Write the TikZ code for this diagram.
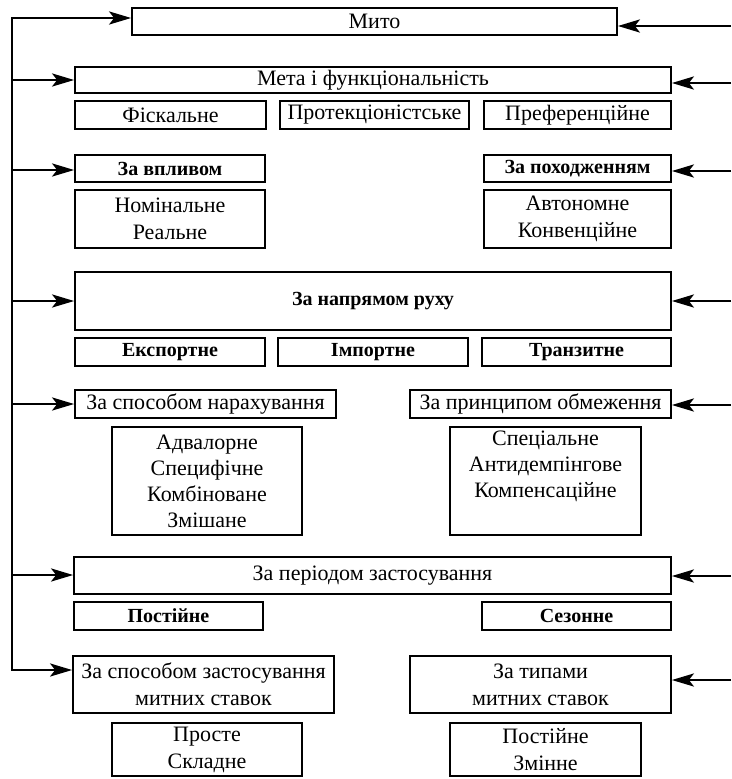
\documentclass[tikz,border=0pt]{standalone}
\usepackage{fontspec}
\setmainfont{Liberation Serif}
\usetikzlibrary{arrows.meta}
\begin{document}
\begin{tikzpicture}[x=1pt,y=-1pt]
		\tikzset{box/.style = {draw, line width=1.7pt, inner sep=0pt, align=center, font=\fontsize{22}{27}\selectfont}}
		\tikzset{head/.style = {box, font=\fontsize{20}{26}\selectfont\bfseries}}
		\tikzset{edge/.style = {-{Stealth[length=22pt,width=13pt,inset=5pt]}, line width=2.8pt}}
		\useasboundingbox (0,0) rectangle (731,779);
		
		\node[box, minimum width=485, minimum height=27]  (1) at (374.5,  21.5) {Мито};
		\node[box, minimum width=596, minimum height=26]  (2) at (373,    80)   {Мета і функціональність};
		\node[box, minimum width=191, minimum height=28]  (3) at (170.5, 115)   {Фіскальне};
		\node[box, minimum width=189, minimum height=28]  (4) at (374.5, 115)   {Протекціоністське};
		\node[box, minimum width=187, minimum height=28]  (5) at (577.5, 115)   {Преференційне};
		
		\node[head, minimum width=190, minimum height=27] (6) at (170,   168.5) {За впливом};
		\node[head, minimum width=187, minimum height=27] (7) at (577.5, 168.5) {За походженням};
		\node[box, minimum width=190, minimum height=58]  (8) at (170,   219)   {Номінальне\\Реальне};
		\node[box, minimum width=187, minimum height=58]  (9) at (577.5, 219)   {Автономне\\Конвенційне};
		
		\node[head, minimum width=596, minimum height=58] (10) at (373,   301)  {За напрямом руху};
		\node[head, minimum width=190, minimum height=28] (11) at (170,   352)  {Експортне};
		\node[head, minimum width=190, minimum height=28] (12) at (373,   352)  {Імпортне};
		\node[head, minimum width=189, minimum height=28] (13) at (576.5, 352)  {Транзитне};
		
		\node[box, minimum width=261, minimum height=28] (14) at (205.5, 404)   {За способом нарахування};
		\node[box, minimum width=261, minimum height=28] (15) at (540.5, 404)   {За принципом обмеження};
		\node[box, font=\fontsize{22}{26}\selectfont, minimum width=190, minimum height=108] (16) at (207, 481) {Адвалорне\\Специфічне\\Комбіноване\\Змішане};
		\node[box, font=\fontsize{22}{26}\selectfont, minimum width=191, minimum height=108] (17) at (545.5, 481) {Спеціальне\\Антидемпінгове\\Компенсаційне\\\strut};
		
		\node[box, minimum width=597, minimum height=37] (18) at (372.5, 575.5) {За періодом застосування};
		\node[head, minimum width=189, minimum height=28] (19) at (168.5, 616)  {Постійне};
		\node[head, minimum width=189, minimum height=28] (20) at (576.5, 616)  {Сезонне};
		
		\node[box, minimum width=261, minimum height=57] (21) at (203.5, 684.5) {За способом застосування\\митних ставок};
		\node[box, minimum width=261, minimum height=57] (22) at (540.5, 684.5) {За типами\\митних ставок};
		\node[box, minimum width=190, minimum height=53] (23) at (207,   749.5) {Просте\\Складне};
		\node[box, minimum width=191, minimum height=53] (24) at (545.5, 749.5) {Постійне\\Змінне};
		
		% left side
		\coordinate (l1) at (12,  18);
		\coordinate (l2) at (12,  80);
		\coordinate (l3) at (12, 170);
		\coordinate (l4) at (12, 301);
		\coordinate (l5) at (12, 404);
		\coordinate (l6) at (12, 575);
		\coordinate (l7) at (12, 670);
		\draw[line width=2.8pt, line cap=rect] (l1) -- (l7);
		\draw[edge] (l1) to (l1 -| 1.west);
		\draw[edge] (l2) to (l2 -| 2.west);
		\draw[edge] (l3) to (l3 -| 6.west);
		\draw[edge] (l4) to (l4 -| 10.west);
		\draw[edge] (l5) to (l5 -| 14.west);
		\draw[edge] (l6) to (l6 -| 18.west);
		\draw[edge] (l7) to (l7 -| 21.west);
		
		% right side
		\coordinate (r1) at (731,  26);
		\coordinate (r2) at (731,  83);
		\coordinate (r3) at (731, 171);
		\coordinate (r4) at (731, 301);
		\coordinate (r5) at (731, 405);
		\coordinate (r6) at (731, 576);
		\coordinate (r7) at (731, 680);
		\draw[edge] (r1) to (r1 -| 1.east);
		\draw[edge] (r2) to (r2 -| 2.east);
		\draw[edge] (r3) to (r3 -| 7.east);
		\draw[edge] (r4) to (r4 -| 10.east);
		\draw[edge] (r5) to (r5 -| 15.east);
		\draw[edge] (r6) to (r6 -| 18.east);
		\draw[edge] (r7) to (r7 -| 22.east);
\end{tikzpicture}
\end{document}
